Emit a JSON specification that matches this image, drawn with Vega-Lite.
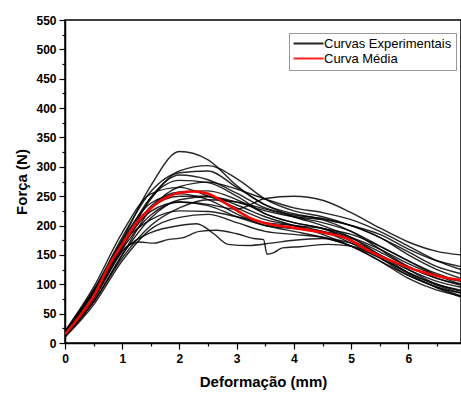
{
  "$schema": "https://vega.github.io/schema/vega-lite/v6.json",
  "width": 396,
  "height": 323,
  "autosize": "none",
  "padding": {"left": 65, "top": 20, "right": 0, "bottom": 51},
  "config": {
    "view": {"stroke": "black", "strokeWidth": 1.5},
    "font": "Liberation Sans",
    "axis": {"domainColor": "black", "domainWidth": 1.5, "tickColor": "black", "tickWidth": 1.2, "grid": false, "labelFont": "Liberation Sans", "labelFontWeight": "bold", "labelFontSize": 12, "labelColor": "black", "titleFont": "Liberation Sans", "titleFontWeight": "bold", "titleFontSize": 15, "titleColor": "black"}
  },
  "resolve": {"axis": {"x": "independent", "y": "independent"}},
  "data": {"values": [
    {"c":"c1","x":0,"y":15},{"c":"c1","x":0.5,"y":85},{"c":"c1","x":1,"y":175},{"c":"c1","x":1.5,"y":268},{"c":"c1","x":2,"y":326},{"c":"c1","x":2.5,"y":312},{"c":"c1","x":3,"y":268},{"c":"c1","x":3.5,"y":235},{"c":"c1","x":4,"y":220},{"c":"c1","x":4.5,"y":210},{"c":"c1","x":5,"y":190},{"c":"c1","x":5.5,"y":160},{"c":"c1","x":6,"y":130},{"c":"c1","x":6.5,"y":110},{"c":"c1","x":6.92,"y":100},
    {"c":"c2","x":0,"y":18},{"c":"c2","x":0.5,"y":80},{"c":"c2","x":1,"y":165},{"c":"c2","x":1.5,"y":245},{"c":"c2","x":2,"y":293},{"c":"c2","x":2.5,"y":302},{"c":"c2","x":3,"y":280},{"c":"c2","x":3.5,"y":245},{"c":"c2","x":4,"y":225},{"c":"c2","x":4.5,"y":215},{"c":"c2","x":5,"y":200},{"c":"c2","x":5.5,"y":180},{"c":"c2","x":6,"y":150},{"c":"c2","x":6.5,"y":125},{"c":"c2","x":6.92,"y":110},
    {"c":"c3","x":0,"y":20},{"c":"c3","x":0.5,"y":90},{"c":"c3","x":1,"y":180},{"c":"c3","x":1.5,"y":258},{"c":"c3","x":2,"y":290},{"c":"c3","x":2.5,"y":293},{"c":"c3","x":3,"y":265},{"c":"c3","x":3.5,"y":235},{"c":"c3","x":4,"y":215},{"c":"c3","x":4.5,"y":200},{"c":"c3","x":5,"y":180},{"c":"c3","x":5.5,"y":150},{"c":"c3","x":6,"y":125},{"c":"c3","x":6.5,"y":105},{"c":"c3","x":6.92,"y":95},
    {"c":"c4","x":0,"y":12},{"c":"c4","x":0.5,"y":75},{"c":"c4","x":1,"y":160},{"c":"c4","x":1.5,"y":248},{"c":"c4","x":2,"y":286},{"c":"c4","x":2.5,"y":278},{"c":"c4","x":3,"y":255},{"c":"c4","x":3.5,"y":230},{"c":"c4","x":4,"y":218},{"c":"c4","x":4.5,"y":212},{"c":"c4","x":5,"y":200},{"c":"c4","x":5.5,"y":185},{"c":"c4","x":6,"y":160},{"c":"c4","x":6.5,"y":140},{"c":"c4","x":6.92,"y":130},
    {"c":"c5","x":0,"y":15},{"c":"c5","x":0.5,"y":85},{"c":"c5","x":1,"y":170},{"c":"c5","x":1.5,"y":248},{"c":"c5","x":2,"y":277},{"c":"c5","x":2.5,"y":273},{"c":"c5","x":3,"y":250},{"c":"c5","x":3.5,"y":220},{"c":"c5","x":4,"y":205},{"c":"c5","x":4.5,"y":195},{"c":"c5","x":5,"y":175},{"c":"c5","x":5.5,"y":150},{"c":"c5","x":6,"y":120},{"c":"c5","x":6.5,"y":100},{"c":"c5","x":6.92,"y":88},
    {"c":"c6","x":0,"y":10},{"c":"c6","x":0.5,"y":70},{"c":"c6","x":1,"y":150},{"c":"c6","x":1.5,"y":228},{"c":"c6","x":2,"y":266},{"c":"c6","x":2.5,"y":274},{"c":"c6","x":3,"y":262},{"c":"c6","x":3.5,"y":245},{"c":"c6","x":4,"y":230},{"c":"c6","x":4.5,"y":222},{"c":"c6","x":5,"y":210},{"c":"c6","x":5.5,"y":190},{"c":"c6","x":6,"y":165},{"c":"c6","x":6.5,"y":140},{"c":"c6","x":6.92,"y":125},
    {"c":"c7","x":0,"y":15},{"c":"c7","x":0.5,"y":80},{"c":"c7","x":1,"y":160},{"c":"c7","x":1.5,"y":218},{"c":"c7","x":2,"y":240},{"c":"c7","x":2.5,"y":236},{"c":"c7","x":3,"y":228},{"c":"c7","x":3.5,"y":246},{"c":"c7","x":4,"y":250},{"c":"c7","x":4.5,"y":243},{"c":"c7","x":5,"y":222},{"c":"c7","x":5.5,"y":196},{"c":"c7","x":6,"y":172},{"c":"c7","x":6.5,"y":156},{"c":"c7","x":6.92,"y":150},
    {"c":"c8","x":0,"y":20},{"c":"c8","x":0.5,"y":95},{"c":"c8","x":1,"y":188},{"c":"c8","x":1.5,"y":254},{"c":"c8","x":2,"y":265},{"c":"c8","x":2.5,"y":250},{"c":"c8","x":3,"y":230},{"c":"c8","x":3.5,"y":210},{"c":"c8","x":4,"y":200},{"c":"c8","x":4.5,"y":190},{"c":"c8","x":5,"y":170},{"c":"c8","x":5.5,"y":145},{"c":"c8","x":6,"y":115},{"c":"c8","x":6.5,"y":95},{"c":"c8","x":6.92,"y":80},
    {"c":"c9","x":0,"y":14},{"c":"c9","x":0.5,"y":80},{"c":"c9","x":1,"y":165},{"c":"c9","x":1.5,"y":233},{"c":"c9","x":2,"y":257},{"c":"c9","x":2.5,"y":259},{"c":"c9","x":3,"y":244},{"c":"c9","x":3.5,"y":220},{"c":"c9","x":4,"y":205},{"c":"c9","x":4.5,"y":195},{"c":"c9","x":5,"y":180},{"c":"c9","x":5.5,"y":160},{"c":"c9","x":6,"y":135},{"c":"c9","x":6.5,"y":115},{"c":"c9","x":6.92,"y":105},
    {"c":"c10","x":0,"y":18},{"c":"c10","x":0.5,"y":88},{"c":"c10","x":1,"y":175},{"c":"c10","x":1.5,"y":238},{"c":"c10","x":2,"y":254},{"c":"c10","x":2.5,"y":244},{"c":"c10","x":3,"y":220},{"c":"c10","x":3.5,"y":200},{"c":"c10","x":4,"y":195},{"c":"c10","x":4.5,"y":190},{"c":"c10","x":5,"y":178},{"c":"c10","x":5.5,"y":155},{"c":"c10","x":6,"y":130},{"c":"c10","x":6.5,"y":110},{"c":"c10","x":6.92,"y":98},
    {"c":"c11","x":0,"y":12},{"c":"c11","x":0.5,"y":70},{"c":"c11","x":1,"y":150},{"c":"c11","x":1.5,"y":213},{"c":"c11","x":2,"y":244},{"c":"c11","x":2.5,"y":249},{"c":"c11","x":3,"y":240},{"c":"c11","x":3.5,"y":225},{"c":"c11","x":4,"y":215},{"c":"c11","x":4.5,"y":210},{"c":"c11","x":5,"y":200},{"c":"c11","x":5.5,"y":180},{"c":"c11","x":6,"y":155},{"c":"c11","x":6.5,"y":130},{"c":"c11","x":6.92,"y":118},
    {"c":"c12","x":0,"y":16},{"c":"c12","x":0.5,"y":82},{"c":"c12","x":1,"y":165},{"c":"c12","x":1.5,"y":224},{"c":"c12","x":2,"y":240},{"c":"c12","x":2.5,"y":234},{"c":"c12","x":3,"y":215},{"c":"c12","x":3.5,"y":200},{"c":"c12","x":4,"y":190},{"c":"c12","x":4.5,"y":180},{"c":"c12","x":5,"y":165},{"c":"c12","x":5.5,"y":140},{"c":"c12","x":6,"y":115},{"c":"c12","x":6.5,"y":95},{"c":"c12","x":6.92,"y":85},
    {"c":"c13","x":0,"y":20},{"c":"c13","x":0.5,"y":90},{"c":"c13","x":1,"y":170},{"c":"c13","x":1.5,"y":210},{"c":"c13","x":2,"y":225},{"c":"c13","x":2.5,"y":224},{"c":"c13","x":3,"y":215},{"c":"c13","x":3.5,"y":205},{"c":"c13","x":4,"y":200},{"c":"c13","x":4.5,"y":195},{"c":"c13","x":5,"y":185},{"c":"c13","x":5.5,"y":165},{"c":"c13","x":6,"y":140},{"c":"c13","x":6.5,"y":115},{"c":"c13","x":6.92,"y":100},
    {"c":"c14","x":0,"y":10},{"c":"c14","x":0.5,"y":65},{"c":"c14","x":1,"y":140},{"c":"c14","x":1.5,"y":194},{"c":"c14","x":2,"y":214},{"c":"c14","x":2.5,"y":219},{"c":"c14","x":3,"y":205},{"c":"c14","x":3.5,"y":190},{"c":"c14","x":4,"y":185},{"c":"c14","x":4.5,"y":180},{"c":"c14","x":5,"y":170},{"c":"c14","x":5.5,"y":150},{"c":"c14","x":6,"y":125},{"c":"c14","x":6.5,"y":100},{"c":"c14","x":6.92,"y":90},
    {"c":"c15","x":0,"y":15},{"c":"c15","x":0.5,"y":75},{"c":"c15","x":1,"y":155},{"c":"c15","x":1.5,"y":188},{"c":"c15","x":2,"y":200},{"c":"c15","x":2.3,"y":203},{"c":"c15","x":2.6,"y":186},{"c":"c15","x":2.85,"y":168},{"c":"c15","x":3.2,"y":166},{"c":"c15","x":3.6,"y":170},{"c":"c15","x":4,"y":175},{"c":"c15","x":4.5,"y":178},{"c":"c15","x":5,"y":165},{"c":"c15","x":5.5,"y":145},{"c":"c15","x":6,"y":120},{"c":"c15","x":6.5,"y":98},{"c":"c15","x":6.92,"y":85},
    {"c":"c16","x":0,"y":15},{"c":"c16","x":0.5,"y":80},{"c":"c16","x":1,"y":158},{"c":"c16","x":1.3,"y":172},{"c":"c16","x":1.55,"y":170},{"c":"c16","x":1.8,"y":176},{"c":"c16","x":2.05,"y":179},{"c":"c16","x":2.35,"y":190},{"c":"c16","x":2.65,"y":192},{"c":"c16","x":3,"y":186},{"c":"c16","x":3.3,"y":178},{"c":"c16","x":3.47,"y":176},{"c":"c16","x":3.53,"y":151},{"c":"c16","x":3.65,"y":154},{"c":"c16","x":3.8,"y":162},{"c":"c16","x":4.1,"y":164},{"c":"c16","x":4.6,"y":168},{"c":"c16","x":5,"y":165},{"c":"c16","x":5.5,"y":146},{"c":"c16","x":6,"y":118},{"c":"c16","x":6.5,"y":94},{"c":"c16","x":6.92,"y":78},
    {"c":"c17","x":0,"y":12},{"c":"c17","x":0.5,"y":70},{"c":"c17","x":1,"y":145},{"c":"c17","x":1.5,"y":200},{"c":"c17","x":2,"y":230},{"c":"c17","x":2.5,"y":244},{"c":"c17","x":3,"y":240},{"c":"c17","x":3.5,"y":228},{"c":"c17","x":4,"y":215},{"c":"c17","x":4.5,"y":205},{"c":"c17","x":5,"y":190},{"c":"c17","x":5.5,"y":165},{"c":"c17","x":6,"y":140},{"c":"c17","x":6.5,"y":118},{"c":"c17","x":6.92,"y":105},
    {"c":"c18","x":0,"y":18},{"c":"c18","x":0.5,"y":85},{"c":"c18","x":1,"y":170},{"c":"c18","x":1.5,"y":230},{"c":"c18","x":2,"y":250},{"c":"c18","x":2.5,"y":250},{"c":"c18","x":3,"y":235},{"c":"c18","x":3.5,"y":215},{"c":"c18","x":4,"y":200},{"c":"c18","x":4.5,"y":185},{"c":"c18","x":5,"y":165},{"c":"c18","x":5.5,"y":140},{"c":"c18","x":6,"y":110},{"c":"c18","x":6.5,"y":90},{"c":"c18","x":6.92,"y":80}
  ]},
  "layer": [
    {
      "mark": {"type": "line", "interpolate": "monotone", "strokeWidth": 1.4, "opacity": 0.85, "clip": true},
      "transform": [{"calculate": "'Curvas Experimentais'", "as": "s"}],
      "encoding": {
        "x": {"field": "x", "type": "quantitative", "scale": {"domain": [0, 6.92], "nice": false, "zero": false}, "title": "Deformação (mm)",
          "axis": {"orient": "bottom", "values": [0,1,2,3,4,5,6], "format": "d", "tickSize": 6, "labelPadding": 4, "titlePadding": 10, "labelFlush": false}},
        "y": {"field": "y", "type": "quantitative", "scale": {"domain": [0, 550], "nice": false}, "title": "Força (N)",
          "axis": {"orient": "left", "values": [0,50,100,150,200,250,300,350,400,450,500,550], "format": "d", "tickSize": 6, "labelPadding": 3, "titlePadding": 6, "labelFlush": false}},
        "detail": {"field": "c"},
        "color": {"field": "s", "type": "nominal", "scale": {"domain": ["Curvas Experimentais", "Curva Média"], "range": ["black", "red"]},
          "legend": {"title": null, "orient": "none", "legendX": 224, "legendY": 13, "symbolType": "M-4,0H4", "symbolSize": 56, "symbolOffset": 9, "symbolStrokeWidth": 2, "labelFontSize": 13, "labelFont": "Liberation Sans", "labelColor": "black", "strokeColor": "#999", "padding": 4, "rowPadding": 1, "labelOffset": 9}}
      }
    },
    {
      "data": {"values": [
        {"x":0,"y":15},{"x":0.25,"y":45},{"x":0.5,"y":80},{"x":0.79,"y":136},{"x":1,"y":168},{"x":1.25,"y":205},{"x":1.5,"y":230},{"x":1.75,"y":247},{"x":2,"y":256},{"x":2.25,"y":258},{"x":2.5,"y":254},{"x":2.75,"y":241},{"x":3,"y":226},{"x":3.25,"y":212},{"x":3.5,"y":204},{"x":4,"y":196},{"x":4.5,"y":188},{"x":4.92,"y":178},{"x":5.25,"y":160},{"x":5.5,"y":148},{"x":5.8,"y":136},{"x":6.2,"y":122},{"x":6.5,"y":114},{"x":6.92,"y":107}
      ]},
      "mark": {"type": "line", "interpolate": "monotone", "strokeWidth": 2.6, "clip": true},
      "transform": [{"calculate": "'Curva Média'", "as": "s"}],
      "encoding": {
        "x": {"field": "x", "type": "quantitative", "axis": {"orient": "bottom", "values": [0.5,1.5,2.5,3.5,4.5,5.5,6.5], "labels": false, "domain": false, "tickSize": 3, "title": null}},
        "y": {"field": "y", "type": "quantitative", "axis": {"orient": "left", "values": [25,75,125,175,225,275,325,375,425,475,525], "labels": false, "domain": false, "tickSize": 3, "title": null}},
        "color": {"field": "s", "type": "nominal"}
      }
    }
  ]
}
